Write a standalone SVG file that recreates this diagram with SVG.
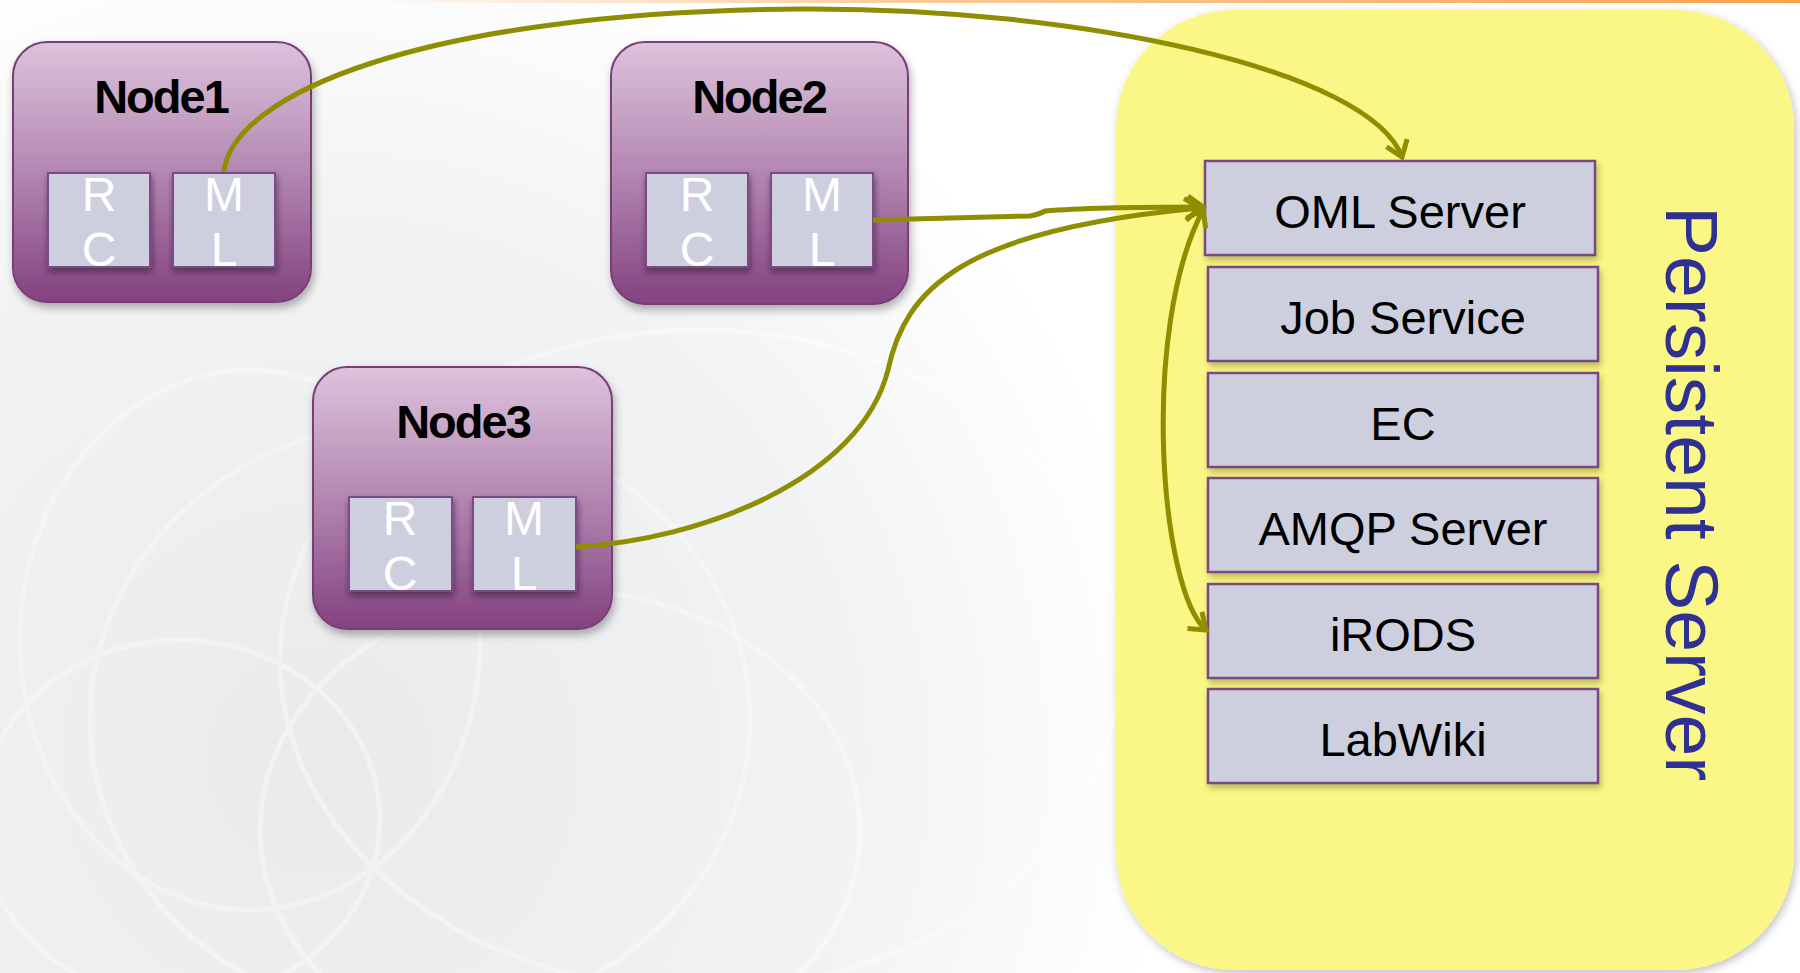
<svg xmlns="http://www.w3.org/2000/svg" width="1800" height="973" viewBox="0 0 1800 973">
<defs>
<radialGradient id="bg" cx="320" cy="760" r="1000" gradientUnits="userSpaceOnUse">
<stop offset="0" stop-color="#e9eaec"/>
<stop offset="0.55" stop-color="#f2f3f4"/>
<stop offset="0.85" stop-color="#ffffff"/>
</radialGradient>
<linearGradient id="topline" x1="0" y1="0" x2="1800" y2="0" gradientUnits="userSpaceOnUse">
<stop offset="0.2" stop-color="#f8b46c" stop-opacity="0"/>
<stop offset="0.5" stop-color="#f8b46c" stop-opacity="0.7"/>
<stop offset="1" stop-color="#f6a250"/>
</linearGradient>
<linearGradient id="nodeFill" x1="0" y1="0" x2="0" y2="1">
<stop offset="0" stop-color="#ddc3dc"/>
<stop offset="0.5" stop-color="#b387b2"/>
<stop offset="1" stop-color="#83427f"/>
</linearGradient>
<filter id="sh" x="-10%" y="-10%" width="125%" height="125%">
<feDropShadow dx="2" dy="5" stdDeviation="4" flood-color="#000" flood-opacity="0.3"/>
</filter>
<filter id="shs" x="-10%" y="-10%" width="125%" height="130%">
<feDropShadow dx="1" dy="4" stdDeviation="3" flood-color="#2a0a2a" flood-opacity="0.55"/>
</filter>
<filter id="shy" x="-10%" y="-10%" width="125%" height="130%">
<feDropShadow dx="2" dy="4" stdDeviation="3" flood-color="#6b6a20" flood-opacity="0.45"/>
</filter>
<filter id="shb" x="-5%" y="-5%" width="110%" height="110%">
<feDropShadow dx="2" dy="3" stdDeviation="4" flood-color="#000" flood-opacity="0.25"/>
</filter>
<marker id="arr" viewBox="-20 -14 24 28" markerWidth="24" markerHeight="28" refX="0" refY="0" orient="auto-start-reverse" markerUnits="userSpaceOnUse">
<path d="M-15,-11 L0,0 L-15,11" fill="none" stroke="#8f8e00" stroke-width="5"/>
</marker>
</defs>
<style>
.node{fill:url(#nodeFill);stroke:#7a3e78;stroke-width:2}
.sub{fill:#cdcfdf;stroke:#7b4b87;stroke-width:2}
.ntitle{font-family:"Liberation Sans",Arial,sans-serif;font-weight:bold;font-size:47px;letter-spacing:-2px;fill:#000;text-anchor:middle}
.sl{font-family:"Liberation Sans",Arial,sans-serif;font-size:48px;fill:#ffffff;text-anchor:middle}
.svc{fill:#cdcfde;stroke:#7a4a82;stroke-width:2.5}
.svct{font-family:"Liberation Sans",Arial,sans-serif;font-size:47px;fill:#000;text-anchor:middle}
.conn{fill:none;stroke:#8f8e00;stroke-width:5}
</style>
<rect x="0" y="0" width="1800" height="973" fill="url(#bg)"/>
<g fill="none" stroke="#ffffff" stroke-width="5" opacity="0.35">
<ellipse cx="250" cy="640" rx="230" ry="270"/>
<ellipse cx="420" cy="720" rx="330" ry="300"/>
<ellipse cx="560" cy="830" rx="300" ry="240"/>
<ellipse cx="180" cy="820" rx="200" ry="180"/>
<ellipse cx="700" cy="660" rx="420" ry="330"/>
</g>
<rect x="0" y="0" width="1800" height="3" fill="url(#topline)"/>

<g id="persistent-server">
<rect x="1116" y="10" width="678" height="960" rx="118" ry="118" fill="#fbf787" filter="url(#shb)"/>
<text transform="translate(1666,206) rotate(90)" font-family="Liberation Sans, Arial, sans-serif" font-size="75" fill="#2e3192">Persistent Server</text>
</g>

<g id="oml-server"><rect class="svc" x="1205" y="161" width="390" height="94" filter="url(#shy)"/><text class="svct" x="1400" y="228">OML Server</text></g>
<g id="job-service"><rect class="svc" x="1208" y="267" width="390" height="94" filter="url(#shy)"/><text class="svct" x="1403" y="334">Job Service</text></g>
<g id="ec"><rect class="svc" x="1208" y="373" width="390" height="94" filter="url(#shy)"/><text class="svct" x="1403" y="440">EC</text></g>
<g id="amqp-server"><rect class="svc" x="1208" y="478" width="390" height="94" filter="url(#shy)"/><text class="svct" x="1403" y="545">AMQP Server</text></g>
<g id="irods"><rect class="svc" x="1208" y="584" width="390" height="94" filter="url(#shy)"/><text class="svct" x="1403" y="651">iRODS</text></g>
<g id="labwiki"><rect class="svc" x="1208" y="689" width="390" height="94" filter="url(#shy)"/><text class="svct" x="1403" y="756">LabWiki</text></g>

<g id="node1">
<rect class="node" x="13" y="42" width="298" height="260" rx="34" filter="url(#sh)"/>
<text class="ntitle" x="161" y="113">Node1</text>
<rect class="sub" x="48" y="173" width="102" height="94" filter="url(#shs)"/>
<text class="sl" x="99" y="211">R</text><text class="sl" x="99" y="266">C</text>
<rect class="sub" x="173" y="173" width="102" height="94" filter="url(#shs)"/>
<text class="sl" x="224" y="211">M</text><text class="sl" x="224" y="266">L</text>
</g>

<g id="node2">
<rect class="node" x="611" y="42" width="297" height="262" rx="34" filter="url(#sh)"/>
<text class="ntitle" x="759" y="113">Node2</text>
<rect class="sub" x="646" y="173" width="102" height="94" filter="url(#shs)"/>
<text class="sl" x="697" y="211">R</text><text class="sl" x="697" y="266">C</text>
<rect class="sub" x="771" y="173" width="102" height="94" filter="url(#shs)"/>
<text class="sl" x="822" y="211">M</text><text class="sl" x="822" y="266">L</text>
</g>

<g id="node3">
<rect class="node" x="313" y="367" width="299" height="262" rx="34" filter="url(#sh)"/>
<text class="ntitle" x="463" y="438">Node3</text>
<rect class="sub" x="349" y="497" width="103" height="94" filter="url(#shs)"/>
<text class="sl" x="400" y="535">R</text><text class="sl" x="400" y="590">C</text>
<rect class="sub" x="473" y="497" width="103" height="94" filter="url(#shs)"/>
<text class="sl" x="524" y="535">M</text><text class="sl" x="524" y="590">L</text>
</g>

<g id="connectors">
<path class="conn" d="M224,172 C232,95 420,12 800,9 C1080,7 1370,70 1402,157" marker-end="url(#arr)"/>
<path class="conn" d="M873,220 L1030,216 Q1040,214 1045,211 C1080,208 1150,207 1203,207" marker-end="url(#arr)"/>
<path class="conn" d="M576,547 C700,540 860,480 888,370 C905,290 960,230 1200,208" marker-end="url(#arr)"/>
<path class="conn" d="M1206,630 C1160,590 1140,330 1203,210" marker-start="url(#arr)" marker-end="url(#arr)"/>
</g>
</svg>
